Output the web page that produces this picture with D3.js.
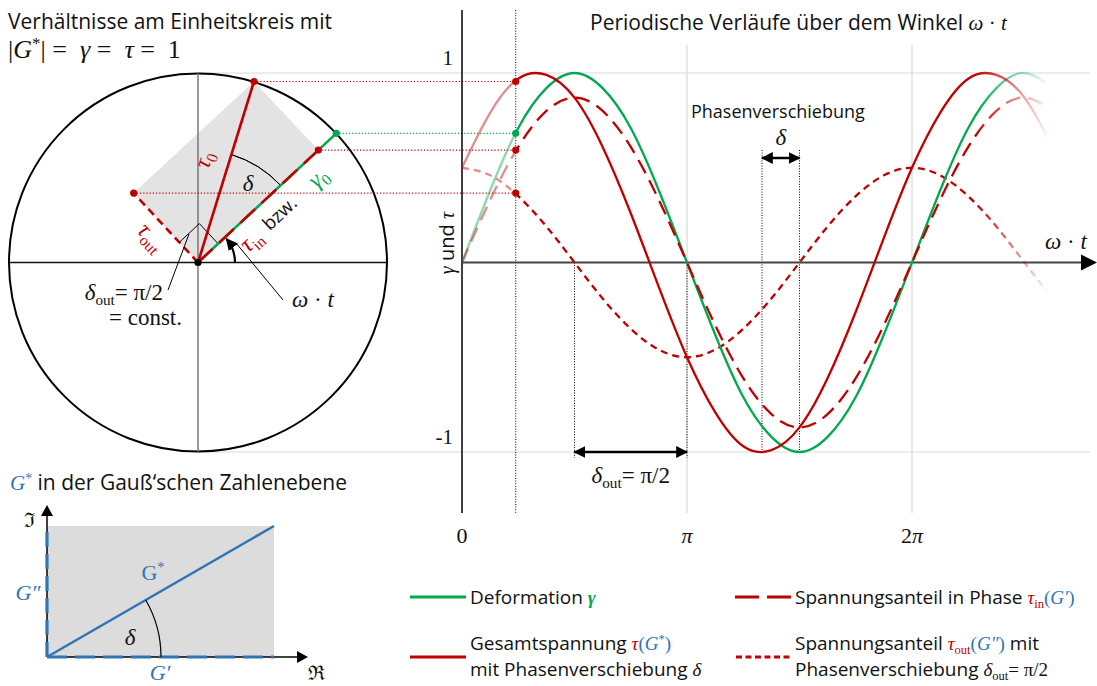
<!DOCTYPE html>
<html>
<head>
<meta charset="utf-8">
<script src="https://cdn.jsdelivr.net/npm/d3@7"></script>
<style>
  body { margin: 0; background: #fff; }
  text { fill: #111; }
  .s { font-family: "Open Sans", Lato, sans-serif; }
  .m { font-family: "Liberation Serif", "DejaVu Serif", serif; font-style: italic; }
  .r { font-family: "Liberation Serif", "DejaVu Serif", serif; }
  .b { font-family: "Liberation Serif", "DejaVu Serif", serif; font-style: italic; font-weight: bold; }
  .f { font-family: "DejaVu Serif", serif; }
</style>
</head>
<body>
<div id="chart"></div>
<script>
const PI = Math.PI;

// Stuetzstellen in Vielfachen von pi
const winkel = [0, 0.125, 0.25, 0.375, 0.5, 0.625, 0.75, 0.875, 1, 1.125, 1.25, 1.375, 1.5,
  1.625, 1.75, 1.875, 2, 2.125, 2.25, 2.375, 2.5, 2.625];

const gammaWerte = [0, 0.38, 0.71, 0.92, 1, 0.92, 0.71, 0.38, 0, -0.38, -0.71, -0.92, -1,
  -0.92, -0.71, -0.38, 0, 0.38, 0.71, 0.92, 1, 0.92];
const tauWerte = [0.5, 0.79, 0.97, 0.99, 0.87, 0.61, 0.26, -0.13, -0.5, -0.79, -0.97, -0.99, -0.87,
  -0.61, -0.26, 0.13, 0.5, 0.79, 0.97, 0.99, 0.87, 0.61];
const tauInWerte = [0, 0.33, 0.61, 0.8, 0.87, 0.8, 0.61, 0.33, 0, -0.33, -0.61, -0.8, -0.87,
  -0.8, -0.61, -0.33, 0, 0.33, 0.61, 0.8, 0.87, 0.8];
const tauOutWerte = [0.5, 0.46, 0.35, 0.19, 0, -0.19, -0.35, -0.46, -0.5, -0.46, -0.35, -0.19, 0,
  0.19, 0.35, 0.46, 0.5, 0.46, 0.35, 0.19, 0, -0.19];

// Zeiger im Einheitskreis (Winkel in rad, Laenge)
const omegaT = 0.75;
const delta = 0.52;
const zeigerNamen = ["gamma0", "tau0", "tauIn", "tauOut"];
const zeigerWinkel = [0.75, 1.27, 0.75, 2.32];
const zeigerLaenge = [1, 1, 0.87, 0.5];

// Tick-Beschriftungen
const xTicks = [0, 1, 2];
const xTickText = [["0", ""], ["", "π"], ["2", "π"]];
const yTicks = [1, -1];
const yTickText = ["1", "-1"];

// Gauss'sche Ebene: G* = G' + i G''
const gStrich = 1;
const gZwei = 1;

const ROT = "#c00000", GRUEN = "#00a84f", BLAU = "#2e75b6", GRAU = "#d9d9d9";
const SP = "\u00a0";

const svg = d3.select("#chart").append("svg").attr("width", 1097).attr("height", 686);
const defs = svg.append("defs");

const x = d3.scaleLinear().domain([0, PI]).range([462, 687]);
const y = d3.scaleLinear().domain([-1, 1]).range([452, 73]);
const kx = d3.scaleLinear().domain([-1, 1]).range([9, 387]);

function txt(g, px, py, teile, size, anchor = "start") {
  const t = g.append("text").attr("x", px).attr("y", py)
    .attr("font-size", size).attr("text-anchor", anchor);
  let shift = 0;
  teile.forEach(p => {
    const s = t.append("tspan").text(p.t).attr("class", p.k || "s");
    const ziel = p.sub ? size * 0.22 : p.sup ? -size * 0.35 : 0;
    if (ziel !== shift) { s.attr("dy", ziel - shift); shift = ziel; }
    if (p.sub || p.sup) s.attr("font-size", size * 0.66);
    if (p.c) s.style("fill", p.c);
  });
  return t;
}

// Pfeilspitze
defs.append("marker").attr("id", "pfeil").attr("viewBox", "0 0 10 10")
  .attr("refX", 9).attr("refY", 5).attr("markerWidth", 12).attr("markerHeight", 12)
  .attr("markerUnits", "userSpaceOnUse")
  .attr("orient", "auto-start-reverse")
  .append("path").attr("d", "M0,0 L10,5 L0,10 Z").attr("fill", "#000");

// Verlauf: blass bis omega*t, voll, dann Ausblenden
function gradient(id, farbe) {
  const gr = defs.append("linearGradient").attr("id", id)
    .attr("gradientUnits", "userSpaceOnUse")
    .attr("x1", x(0)).attr("x2", x(2.6 * PI)).attr("y1", 0).attr("y2", 0);
  const w = (x(omegaT) - x(0)) / (x(2.6 * PI) - x(0));
  const e = (975 - x(0)) / (x(2.6 * PI) - x(0));
  [[0, 0.45], [w, 0.45], [w, 1], [e, 1], [1, 0.05]].forEach(([o, a]) =>
    gr.append("stop").attr("offset", o).attr("stop-color", farbe).attr("stop-opacity", a));
}
gradient("gGruen", GRUEN);
gradient("gRot", ROT);

defs.append("clipPath").attr("id", "clip")
  .append("rect").attr("x", 0).attr("y", 0).attr("width", x(2.6 * PI)).attr("height", 686);

// ---------- Gitter ----------
const gitter = svg.append("g");
yTicks.forEach(v => gitter.append("line")
  .attr("x1", kx(0)).attr("x2", 1090).attr("y1", y(v)).attr("y2", y(v))
  .attr("stroke", GRAU).attr("stroke-width", 1.2));
[1, 2].forEach(v => gitter.append("line")
  .attr("x1", x(v * PI)).attr("x2", x(v * PI)).attr("y1", 45).attr("y2", 513)
  .attr("stroke", GRAU).attr("stroke-width", 1.2));

// ---------- Einheitskreis ----------
const kreis = svg.append("g");
const zp = zeigerNamen.map((n, i) => ({
  name: n,
  px: kx(zeigerLaenge[i] * Math.cos(zeigerWinkel[i])),
  wert: zeigerLaenge[i] * Math.sin(zeigerWinkel[i])
}));
const Z = Object.fromEntries(zp.map(d => [d.name, d]));
const O = [kx(0), y(0)];

kreis.append("polygon")
  .attr("points", [O, [Z.tauIn.px, y(Z.tauIn.wert)], [Z.tau0.px, y(Z.tau0.wert)], [Z.tauOut.px, y(Z.tauOut.wert)]]
    .map(p => p.join(",")).join(" "))
  .attr("fill", "#e3e3e3");

kreis.append("circle").attr("cx", kx(0)).attr("cy", y(0)).attr("r", kx(1) - kx(0))
  .attr("fill", "none").attr("stroke", "#000").attr("stroke-width", 2);
kreis.append("line").attr("x1", kx(-1)).attr("x2", kx(1)).attr("y1", y(0)).attr("y2", y(0))
  .attr("stroke", "#111").attr("stroke-width", 1.3);
kreis.append("line").attr("x1", kx(0)).attr("x2", kx(0)).attr("y1", y(1)).attr("y2", y(-1))
  .attr("stroke", "#666").attr("stroke-width", 1.3);

// Projektionslinien
const farbeVon = { gamma0: GRUEN, tau0: ROT, tauIn: ROT, tauOut: ROT };
zp.forEach(d => kreis.append("line")
  .attr("x1", d.px).attr("x2", x(omegaT)).attr("y1", y(d.wert)).attr("y2", y(d.wert))
  .attr("stroke", farbeVon[d.name]).attr("stroke-width", 1.2).attr("stroke-dasharray", "1.2 2"));

// Winkel delta
const bogen = d3.arc();
kreis.append("path")
  .attr("transform", `translate(${O})`)
  .attr("d", bogen({ innerRadius: 113, outerRadius: 113, startAngle: PI / 2 - omegaT - delta, endAngle: PI / 2 - omegaT }))
  .attr("fill", "none").attr("stroke", "#000").attr("stroke-width", 1);
txt(kreis, 248, 191, [{ t: "δ", k: "m" }], 23, "middle");

// rechter Winkel
const rw = 27.5;
const rwPts = [
  [O[0] + rw * Math.cos(zeigerWinkel[3]), O[1] - rw * Math.sin(zeigerWinkel[3])],
  [O[0] + rw * (Math.cos(zeigerWinkel[3]) + Math.cos(omegaT)), O[1] - rw * (Math.sin(zeigerWinkel[3]) + Math.sin(omegaT))],
  [O[0] + rw * Math.cos(omegaT), O[1] - rw * Math.sin(omegaT)]
];
kreis.append("polyline").attr("points", rwPts.map(p => p.join(",")).join(" "))
  .attr("fill", "none").attr("stroke", "#000").attr("stroke-width", 1);

// Zeiger
function zeiger(d, farbe, dash, w = 2.6) {
  kreis.append("line").attr("x1", O[0]).attr("y1", O[1]).attr("x2", d.px).attr("y2", y(d.wert))
    .attr("stroke", farbe).attr("stroke-width", w).attr("stroke-dasharray", dash);
}
zeiger(Z.tauOut, ROT, "8 5");
zeiger(Z.gamma0, GRUEN, null);
zeiger(Z.tauIn, ROT, "20 9");
zeiger(Z.tau0, ROT, null);

// omega*t Pfeil
const wp = d3.path();
wp.arc(O[0], O[1], 37, 0, -omegaT + 0.06, true);
kreis.append("path").attr("d", wp.toString())
  .attr("fill", "none").attr("stroke", "#000").attr("stroke-width", 2.2)
  .attr("marker-end", "url(#pfeil)");

zp.forEach(d => kreis.append("circle").attr("cx", d.px).attr("cy", y(d.wert)).attr("r", 3.6)
  .attr("fill", farbeVon[d.name]));
kreis.append("circle").attr("cx", O[0]).attr("cy", O[1]).attr("r", 3.6).attr("fill", "#000");

// Beschriftungen der Zeiger
txt(kreis, 211, 162, [{ t: "τ", k: "m", c: ROT }, { t: "0", k: "r", c: ROT, sub: true }], 24, "middle")
  .attr("transform", "rotate(-72,211,162)");
txt(kreis, 323, 183, [{ t: "γ", k: "m", c: GRUEN }, { t: "0", k: "r", c: GRUEN, sub: true }], 24, "middle")
  .attr("transform", "rotate(-43,323,183)");
txt(kreis, 284, 218, [{ t: "bzw." }], 18.5, "middle")
  .attr("transform", "rotate(-43,284,218)");
txt(kreis, 256, 246, [{ t: "τ", k: "m", c: ROT }, { t: "in", k: "r", c: ROT, sub: true }], 24, "middle")
  .attr("transform", "rotate(-43,256,246)");
txt(kreis, 146, 242, [{ t: "τ", k: "m", c: ROT }, { t: "out", k: "r", c: ROT, sub: true }], 24, "middle")
  .attr("transform", "rotate(47,146,242)");

// Anmerkungen
kreis.append("line").attr("x1", 168).attr("y1", 290).attr("x2", 189).attr("y2", 234)
  .attr("stroke", "#000").attr("stroke-width", 1);
kreis.append("line").attr("x1", 236).attr("y1", 243).attr("x2", 283).attr("y2", 300)
  .attr("stroke", "#000").attr("stroke-width", 1);
txt(kreis, 163, 300, [{ t: "δ", k: "m" }, { t: "out", k: "r", sub: true }, { t: "=" + SP + "π/2", k: "r" }], 23, "end");
txt(kreis, 182, 325, [{ t: "=" + SP + "const.", k: "r" }], 23, "end");
txt(kreis, 292, 307, [{ t: "ω", k: "m" }, { t: SP + "·" + SP, k: "r" }, { t: "t", k: "m" }], 23);

// Titel links
txt(svg, 8, 29, [{ t: "Verhältnisse am Einheitskreis mit" }], 21);
txt(svg, 8, 58, [{ t: "|", k: "r" }, { t: "G", k: "m" }, { t: "*", k: "r", sup: true }, { t: "|" + SP + "=" + SP + SP, k: "r" },
  { t: "γ", k: "m" }, { t: SP + "=" + SP + SP, k: "r" }, { t: "τ", k: "m" }, { t: SP + "=" + SP + SP + "1", k: "r" }], 26);

// ---------- Periodische Verlaeufe ----------
const rechts = svg.append("g");
txt(rechts, 590, 30, [{ t: "Periodische Verläufe über dem Winkel " }, { t: "ω", k: "m" },
  { t: SP + "·" + SP, k: "r" }, { t: "t", k: "m" }], 21);

// Hilfslinien
const punkt = (a, b, c, d) => rechts.append("line").attr("x1", a).attr("x2", b).attr("y1", c).attr("y2", d)
  .attr("stroke", "#000").attr("stroke-width", 1).attr("stroke-dasharray", "1 1.6");
punkt(x(omegaT), x(omegaT), 10, 513);
punkt(x(4 * PI / 3), x(4 * PI / 3), 150, y(-1));
punkt(x(3 * PI / 2), x(3 * PI / 2), 150, y(-1));
punkt(x(PI / 2), x(PI / 2), y(0), y(-1) + 6);
punkt(x(PI), x(PI), y(0), y(-1) + 6);

// Achsen
rechts.append("line").attr("x1", x(0)).attr("x2", x(0)).attr("y1", 10).attr("y2", 513)
  .attr("stroke", "#000").attr("stroke-width", 1.5);
rechts.append("line").attr("x1", x(0)).attr("x2", 1083).attr("y1", y(0)).attr("y2", y(0))
  .attr("stroke", "#444").attr("stroke-width", 2);
rechts.append("path").attr("d", `M1081,${y(0) - 8} L1097,${y(0)} L1081,${y(0) + 8} Z`).attr("fill", "#000");
txt(rechts, 1066, 249, [{ t: "ω", k: "m" }, { t: SP + "·" + SP, k: "r" }, { t: "t", k: "m" }], 23, "middle");
txt(rechts, 454, 243, [{ t: "γ", k: "m" }, { t: " und " }, { t: "τ", k: "m" }], 20, "middle")
  .attr("transform", "rotate(-90,454,243)");

xTicks.forEach((v, i) => txt(rechts, x(v * PI), 543,
  [{ t: xTickText[i][0], k: "r" }, { t: xTickText[i][1], k: "m" }], 22, "middle"));
yTicks.forEach((v, i) => txt(rechts, 453, y(v) - 8, [{ t: yTickText[i], k: "r" }], 21, "end"));

// Kurven
const linie = d3.line().x((d, i) => x(winkel[i] * PI)).y(d => y(d)).curve(d3.curveNatural);
const kurven = rechts.append("g").attr("clip-path", "url(#clip)").attr("fill", "none").attr("stroke-width", 2.3);
kurven.append("path").attr("d", linie(tauOutWerte)).attr("stroke", "url(#gRot)").attr("stroke-dasharray", "7 5");
kurven.append("path").attr("d", linie(gammaWerte)).attr("stroke", "url(#gGruen)");
kurven.append("path").attr("d", linie(tauInWerte)).attr("stroke", "url(#gRot)").attr("stroke-dasharray", "15 8");
kurven.append("path").attr("d", linie(tauWerte)).attr("stroke", "url(#gRot)");

zp.forEach(d => rechts.append("circle").attr("cx", x(omegaT)).attr("cy", y(d.wert)).attr("r", 3.6)
  .attr("fill", farbeVon[d.name]));

// Phasenverschiebung
txt(rechts, 691, 118, [{ t: "Phasenverschiebung" }], 18);
txt(rechts, x(17 * PI / 12), 145, [{ t: "δ", k: "m" }], 23, "middle");
rechts.append("line").attr("x1", x(4 * PI / 3)).attr("x2", x(3 * PI / 2)).attr("y1", 158).attr("y2", 158)
  .attr("stroke", "#000").attr("stroke-width", 2.5)
  .attr("marker-start", "url(#pfeil)").attr("marker-end", "url(#pfeil)");
rechts.append("line").attr("x1", x(PI / 2)).attr("x2", x(PI)).attr("y1", y(-1)).attr("y2", y(-1))
  .attr("stroke", "#000").attr("stroke-width", 2.5)
  .attr("marker-start", "url(#pfeil)").attr("marker-end", "url(#pfeil)");
txt(rechts, x(3 * PI / 4), 483, [{ t: "δ", k: "m" }, { t: "out", k: "r", sub: true }, { t: "=" + SP + "π/2", k: "r" }], 23, "middle");

// ---------- Gauss'sche Zahlenebene ----------
const gx = d3.scaleLinear().domain([0, 1]).range([47, 274]);
const gy = d3.scaleLinear().domain([0, 1]).range([657, 526]);
const gauss = svg.append("g");
txt(gauss, 10, 490, [{ t: "G", k: "m", c: BLAU }, { t: "*", k: "r", c: BLAU, sup: true }, { t: " in der Gauß‘schen Zahlenebene" }], 21);
gauss.append("rect").attr("x", gx(0)).attr("y", gy(gZwei)).attr("width", gx(gStrich) - gx(0)).attr("height", gy(0) - gy(gZwei))
  .attr("fill", "#dcdcdc");
gauss.append("line").attr("x1", gx(0)).attr("x2", 298).attr("y1", gy(0)).attr("y2", gy(0)).attr("stroke", "#000").attr("stroke-width", 1.5);
gauss.append("line").attr("x1", gx(0)).attr("x2", gx(0)).attr("y1", gy(0)).attr("y2", 515).attr("stroke", "#000").attr("stroke-width", 1.5);
gauss.append("path").attr("d", `M297,${gy(0) - 6} L308,${gy(0)} L297,${gy(0) + 6} Z`);
gauss.append("path").attr("d", `M${gx(0) - 6},516 L${gx(0)},505 L${gx(0) + 6},516 Z`);
gauss.append("line").attr("x1", gx(0)).attr("x2", gx(gStrich)).attr("y1", gy(0)).attr("y2", gy(0))
  .attr("stroke", BLAU).attr("stroke-width", 3.2).attr("stroke-dasharray", "20 8");
gauss.append("line").attr("x1", gx(0)).attr("x2", gx(0)).attr("y1", gy(0)).attr("y2", gy(gZwei))
  .attr("stroke", BLAU).attr("stroke-width", 3.2).attr("stroke-dasharray", "15 7");
gauss.append("line").attr("x1", gx(0)).attr("x2", gx(gStrich)).attr("y1", gy(0)).attr("y2", gy(gZwei))
  .attr("stroke", BLAU).attr("stroke-width", 2.5);
const gd = Math.atan2(gy(0) - gy(gZwei), gx(gStrich) - gx(0));
gauss.append("path").attr("transform", `translate(${gx(0)},${gy(0)})`)
  .attr("d", bogen({ innerRadius: 114, outerRadius: 114, startAngle: PI / 2 - gd, endAngle: PI / 2 }))
  .attr("fill", "none").attr("stroke", "#000").attr("stroke-width", 1.2);
txt(gauss, 130, 645, [{ t: "δ", k: "m" }], 23, "middle");
txt(gauss, 153, 580, [{ t: "G", k: "r", c: BLAU }, { t: "*", k: "r", c: BLAU, sup: true }], 22, "middle");
txt(gauss, 28, 600, [{ t: "G″", k: "m", c: BLAU }], 22, "middle");
txt(gauss, 160, 680, [{ t: "G′", k: "m", c: BLAU }], 22, "middle");
txt(gauss, 29, 527, [{ t: "ℑ", k: "f" }], 20, "middle");
txt(gauss, 316, 680, [{ t: "ℜ", k: "f" }], 20, "middle");

// ---------- Legende ----------
const leg = svg.append("g");
const legLinie = (x1, yy, farbe, dash) => leg.append("line").attr("x1", x1).attr("x2", x1 + 56).attr("y1", yy).attr("y2", yy)
  .attr("stroke", farbe).attr("stroke-width", 2.8).attr("stroke-dasharray", dash);
legLinie(410, 597, GRUEN, null);
legLinie(735, 597, ROT, "24 8");
legLinie(410, 657, ROT, null);
legLinie(736, 657, ROT, "6 3.5");
const LS = 19;
txt(leg, 470, 604, [{ t: "Deformation " }, { t: "γ", k: "b", c: GRUEN }], LS);
txt(leg, 795, 604, [{ t: "Spannungsanteil in Phase " }, { t: "τ", k: "m", c: ROT }, { t: "in", k: "r", c: ROT, sub: true },
  { t: "(", k: "r", c: BLAU }, { t: "G′", k: "m", c: BLAU }, { t: ")", k: "r", c: BLAU }], LS);
txt(leg, 470, 650, [{ t: "Gesamtspannung " }, { t: "τ", k: "m", c: ROT }, { t: "(", k: "r", c: BLAU },
  { t: "G", k: "m", c: BLAU }, { t: "*", k: "r", c: BLAU, sup: true }, { t: ")", k: "r", c: BLAU }], LS);
txt(leg, 470, 676, [{ t: "mit Phasenverschiebung " }, { t: "δ", k: "m" }], LS);
txt(leg, 795, 650, [{ t: "Spannungsanteil " }, { t: "τ", k: "m", c: ROT }, { t: "out", k: "r", c: ROT, sub: true },
  { t: "(", k: "r", c: BLAU }, { t: "G″", k: "m", c: BLAU }, { t: ")", k: "r", c: BLAU }, { t: " mit" }], LS);
txt(leg, 795, 676, [{ t: "Phasenverschiebung " }, { t: "δ", k: "m" }, { t: "out", k: "r", sub: true }, { t: "=" + SP + "π/2", k: "r" }], LS);
</script>
</body>
</html>
